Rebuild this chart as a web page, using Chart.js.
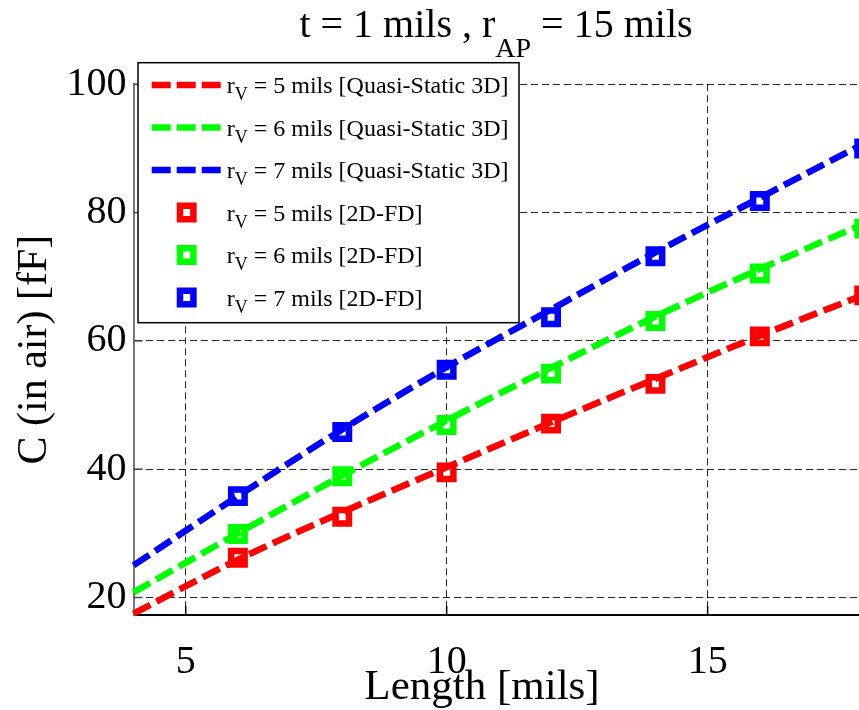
<!DOCTYPE html>
<html>
<head>
<meta charset="utf-8">
<script src="https://cdn.jsdelivr.net/npm/chart.js@4/dist/chart.umd.min.js"></script>
<style>
html, body { margin: 0; padding: 0; background: #fff; overflow: hidden; }
#wrap { width: 859px; height: 710px; position: relative; }
canvas { display: block; }
</style>
</head>
<body>
<div id="wrap"><canvas id="line-chart"></canvas></div>
<script>
// Quasi-Static 3D curves
var lengthX = [4, 6, 8, 10, 12, 14, 16, 18];
var qs5 = [17.5, 25.9, 33.3, 40.3, 47.3, 54.1, 60.8, 67.2];
var qs6 = [20.8, 30.0, 39.0, 47.6, 55.8, 63.8, 71.2, 78.3];
var qs7 = [25.0, 35.8, 46.2, 55.9, 64.9, 73.8, 82.3, 90.8];
// 2D-FD points
var fdX = [6, 8, 10, 12, 14, 16, 18];
var fd5 = [26.2, 32.6, 39.5, 47.1, 53.3, 60.7, 67.1];
var fd6 = [29.9, 38.9, 46.9, 54.9, 63.1, 70.5, 77.5];
var fd7 = [35.8, 45.8, 55.5, 63.7, 73.2, 81.8, 90.0];
var xTicks = [5, 10, 15];
var yTicks = [20, 40, 60, 80, 100];

var serif = "'Times New Roman', 'Liberation Serif', serif";
var RED = '#ff0000', GREEN = '#00ff00', BLUE = '#0000ff';

function pts(xs, ys) {
  return xs.map(function (x, i) { return { x: x, y: ys[i] }; });
}
function curve(label, ys, color) {
  return {
    label: label, data: pts(lengthX, ys), showLine: true,
    borderColor: color, backgroundColor: color,
    borderWidth: 6.5, borderDash: [19, 7], pointRadius: 0, fill: false,
    cubicInterpolationMode: 'monotone', order: 0, clip: false
  };
}
function squares(label, ys, color) {
  return {
    label: label, data: pts(fdX, ys), showLine: false, pointStyle: 'rect',
    pointRadius: 9.5, pointBorderWidth: 6.5, pointBorderColor: color,
    pointBackgroundColor: '#fff', borderColor: color, backgroundColor: '#fff',
    order: 1, clip: false
  };
}

// draw text where "_X" or "_{XY}" is a subscript
function drawTex(ctx, str, x, y, size, subSize, subDrop, align) {
  var parts = [], re = /_\{([^}]*)\}|_(.)/g, last = 0, m;
  while ((m = re.exec(str)) !== null) {
    if (m.index > last) parts.push({ t: str.slice(last, m.index), sub: false });
    parts.push({ t: m[1] !== undefined ? m[1] : m[2], sub: true });
    last = re.lastIndex;
  }
  if (last < str.length) parts.push({ t: str.slice(last), sub: false });
  var total = 0;
  parts.forEach(function (p) {
    ctx.font = (p.sub ? subSize : size) + 'px ' + serif;
    p.w = ctx.measureText(p.t).width;
    total += p.w;
  });
  var cx = align === 'center' ? x - total / 2 : x;
  ctx.textAlign = 'left';
  ctx.textBaseline = 'alphabetic';
  parts.forEach(function (p) {
    ctx.font = (p.sub ? subSize : size) + 'px ' + serif;
    ctx.fillText(p.t, cx, p.sub ? y + subDrop : y);
    cx += p.w;
  });
}

var decor = {
  id: 'decor',
  afterDatasetsDraw: function (chart) {
    var ctx = chart.ctx, a = chart.chartArea;
    var xs = chart.scales.x, ys = chart.scales.y;
    ctx.save();
    // inward tick marks
    ctx.lineWidth = 1.5;
    ctx.strokeStyle = '#000';
    xTicks.forEach(function (v) {
      var px = xs.getPixelForValue(v);
      ctx.beginPath(); ctx.moveTo(px, a.bottom); ctx.lineTo(px, a.bottom - 9); ctx.stroke();
    });
    ctx.strokeStyle = '#444';
    yTicks.forEach(function (v) {
      var py = ys.getPixelForValue(v);
      ctx.beginPath(); ctx.moveTo(a.left, py); ctx.lineTo(a.left + 9, py); ctx.stroke();
    });
    ctx.restore();
  },
  afterDraw: function (chart) {
    var ctx = chart.ctx;
    ctx.save();
    ctx.fillStyle = '#000';
    drawTex(ctx, 't = 1 mils , r_{AP} = 15 mils', 496, 37, 40, 28, 20, 'center');
    drawTex(ctx, 'Length [mils]', 482, 699, 43, 43, 0, 'center');

    // legend box
    var bx = 138, by = 62.7, bw = 381, bh = 260;
    ctx.fillStyle = '#fff';
    ctx.fillRect(bx, by, bw, bh);
    ctx.strokeStyle = '#000';
    ctx.lineWidth = 1.5;
    ctx.strokeRect(bx, by, bw, bh);
    chart.data.datasets.forEach(function (ds, i) {
      var cy = 85 + 42.5 * i;
      if (ds.showLine === false) {
        var s = 6.7;
        ctx.fillStyle = '#fff';
        ctx.strokeStyle = ds.pointBorderColor;
        ctx.lineWidth = 6.5;
        ctx.setLineDash([]);
        ctx.beginPath();
        ctx.rect(186.7 - s, cy - s, 2 * s, 2 * s);
        ctx.fill(); ctx.stroke();
      } else {
        ctx.strokeStyle = ds.borderColor;
        ctx.lineWidth = 6.5;
        ctx.setLineDash([19, 6]);
        ctx.beginPath(); ctx.moveTo(151.7, cy); ctx.lineTo(220.7, cy); ctx.stroke();
        ctx.setLineDash([]);
      }
      ctx.fillStyle = '#000';
      drawTex(ctx, ds.label, 226.7, cy + 8, 24, 18, 7, 'left');
    });
    ctx.restore();
  }
};

var myChart = new Chart(document.getElementById('line-chart'), {
  type: 'scatter',
  data: {
    datasets: [
      curve('r_V = 5 mils [Quasi-Static 3D]', qs5, RED),
      curve('r_V = 6 mils [Quasi-Static 3D]', qs6, GREEN),
      curve('r_V = 7 mils [Quasi-Static 3D]', qs7, BLUE),
      squares('r_V = 5 mils [2D-FD]', fd5, RED),
      squares('r_V = 6 mils [2D-FD]', fd6, GREEN),
      squares('r_V = 7 mils [2D-FD]', fd7, BLUE)
    ]
  },
  options: {
    responsive: true,
    maintainAspectRatio: false,
    animation: false,
    events: [],
    layout: { autoPadding: false, padding: { top: 84.3, right: 0, left: 0, bottom: 0 } },
    plugins: { legend: { display: false }, title: { display: false }, tooltip: { enabled: false } },
    scales: {
      x: {
        type: 'linear', min: 4, max: 17.9,
        afterBuildTicks: function (s) { s.ticks = xTicks.map(function (v) { return { value: v }; }); },
        afterFit: function (s) { s.height = 95; s.paddingLeft = 0; s.paddingRight = 0; },
        grid: { color: 'rgba(0,0,0,0.85)', lineWidth: 1, drawTicks: false, tickLength: 0 },
        border: { display: true, color: '#000', width: 2, dash: [7, 4] },
        ticks: { color: '#000', padding: 23, maxRotation: 0, font: { family: serif, size: 40 } },
        title: { display: false }
      },
      y: {
        type: 'linear', min: 17.27, max: 100,
        afterBuildTicks: function (s) { s.ticks = yTicks.map(function (v) { return { value: v }; }); },
        afterFit: function (s) { s.width = 133.5; s.paddingTop = 0; s.paddingBottom = 0; },
        grid: { color: 'rgba(0,0,0,0.85)', lineWidth: 1, drawTicks: false, tickLength: 0 },
        border: { display: true, color: '#777', width: 2, dash: [7, 4] },
        ticks: { color: '#000', padding: 7, font: { family: serif, size: 40 } },
        title: {
          display: true, text: 'C (in air) [fF]', color: '#000',
          font: { family: serif, size: 42, lineHeight: 1 }, padding: { top: 14, bottom: 0 }
        }
      }
    }
  },
  plugins: [decor]
});
</script>
</body>
</html>
